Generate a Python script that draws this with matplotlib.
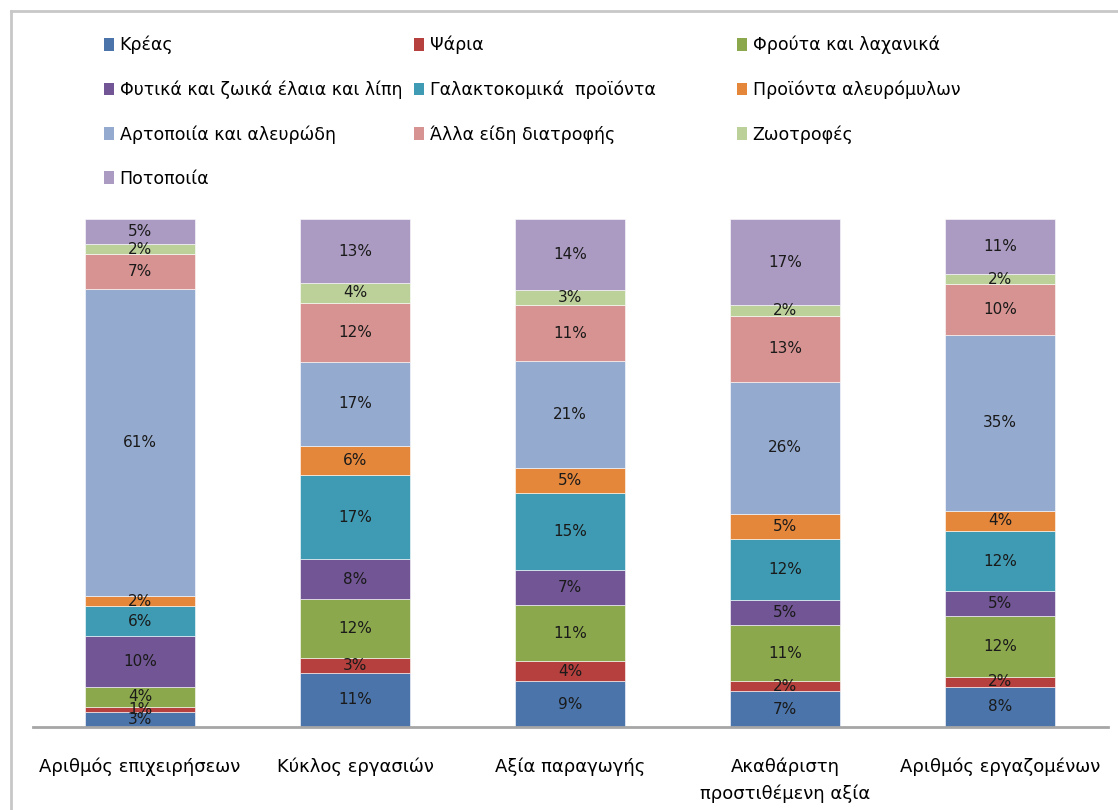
import matplotlib.pyplot as plt
from matplotlib.lines import Line2D
from matplotlib.patches import Patch
import numpy as np

categories = ["Αριθμός επιχειρήσεων", "Κύκλος εργασιών", "Αξία παραγωγής",
              "Ακαθάριστη\nπροστιθέμενη αξία", "Αριθμός εργαζομένων"]
series = ["Κρέας", "Ψάρια", "Φρούτα και λαχανικά",
          "Φυτικά και ζωικά έλαια και λίπη", "Γαλακτοκομικά  προϊόντα",
          "Προϊόντα αλευρόμυλων", "Αρτοποιία και αλευρώδη",
          "Άλλα είδη διατροφής", "Ζωοτροφές", "Ποτοποιία"]
# percentages per category, bottom to top in the order of `series`
kreas = [3, 11, 9, 7, 8]
psaria = [1, 3, 4, 2, 2]
frouta = [4, 12, 11, 11, 12]
elaia = [10, 8, 7, 5, 5]
galakt = [6, 17, 15, 12, 12]
aleur = [2, 6, 5, 5, 4]
artop = [61, 17, 21, 26, 35]
alla = [7, 12, 11, 13, 10]
zotr = [2, 4, 3, 2, 2]
potop = [5, 13, 14, 17, 11]
colors = ['#4A74AA', '#B5403D', '#8CA84C', '#715594', '#3E9BB3',
          '#E5873B', '#94AACF', '#D79391', '#BCD19A', '#AB9BC2']

data = np.array([kreas, psaria, frouta, elaia, galakt, aleur, artop, alla, zotr, potop], dtype=float)
share = data / data.sum(axis=0)

fig = plt.figure(figsize=(11.18, 8.10), dpi=100)
ax = fig.add_axes([32.5/1118, 1-727/810, 1075/1118, 508/810])

x = np.arange(len(categories))
bottom = np.zeros(len(categories))
handles = []
for i, name in enumerate(series):
    ax.bar(x, share[i], 0.51, bottom=bottom, color=colors[i],
           edgecolor='white', linewidth=0.4)
    for j in range(len(categories)):
        ax.text(x[j], bottom[j] + share[i][j]/2, "%d%%" % data[i][j],
                ha='center', va='center', fontsize=11, color='#1a1a1a')
    bottom += share[i]
    handles.append(Patch(facecolor=colors[i], edgecolor='none', label=name))

ax.set_xlim(-0.5, 4.5)
ax.set_ylim(0, 1)
ax.set_yticks([])
ax.set_xticks(x)
ax.set_xticklabels(categories, fontsize=13, linespacing=1.6)
ax.tick_params(axis='x', length=0, pad=22)
for s in ['top', 'right', 'left']:
    ax.spines[s].set_visible(False)
ax.spines['bottom'].set_color('#a6a6a6')
ax.spines['bottom'].set_linewidth(2)

# legend in three columns, row-major like the original
col_x = [104, 414, 737]
for c in range(3):
    hs = handles[c::3]
    fig.legend(handles=hs, loc='upper left',
               bbox_to_anchor=(col_x[c]/1118, 1-36/810),
               frameon=False, borderpad=0, borderaxespad=0,
               handlelength=0.6, handleheight=0.75, handletextpad=0.3,
               labelspacing=1.5, prop={'size': 12.5})

# chart area border
fig.add_artist(Line2D([11/1118, 1], [1-11/810, 1-11/810], color='#c8c8c8', lw=2))
fig.add_artist(Line2D([11/1118, 11/1118], [0, 1-11/810], color='#c8c8c8', lw=2))

fig.savefig('out.png', dpi=100)
